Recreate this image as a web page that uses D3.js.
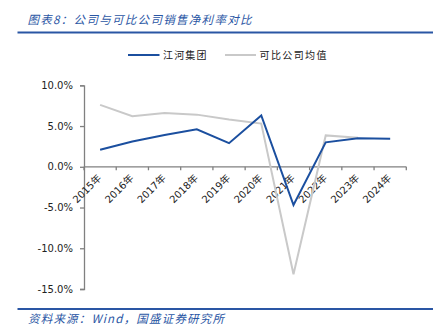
<!DOCTYPE html>
<html><head><meta charset="utf-8">
<script src="https://cdn.jsdelivr.net/npm/d3@7"></script>
<style>
html,body{margin:0;padding:0;background:#fff;}
svg{display:block;}
</style></head>
<body>
<svg id="c" width="434" height="329"></svg>
<script>
const years = ["2015年","2016年","2017年","2018年","2019年","2020年","2021年","2022年","2023年","2024年"];
const jianghe = [2.1, 3.1, 3.9, 4.6, 2.9, 6.3, -4.7, 3.0, 3.5, 3.45];
const peers = [7.6, 6.2, 6.6, 6.4, 5.8, 5.3, -13.2, 3.85, 3.55, null];
const yTicks = [10, 5, 0, -5, -10, -15];
const seriesNames = ["江河集团", "可比公司均值"];
const titleText = "图表8：公司与可比公司销售净利率对比";
const sourceText = "资料来源：Wind，国盛证券研究所";

const blue = "#1b4f9f", grey = "#c9c9c9", hdr = "#2a56a4", axisCol = "#808080";
const svg = d3.select("#c");
const x = d3.scaleBand().domain(years).range([84, 406.3]).padding(0);
const y = d3.scaleLinear().domain([-15, 10]).range([289, 85.3]);

// header
svg.append("text").attr("x", 27.5).attr("y", 23.5)
  .attr("font-family", "Noto Sans CJK SC").attr("font-style", "italic")
  .attr("font-size", 11.5).attr("fill", hdr)
  .attr("textLength", 224).attr("lengthAdjust", "spacing").text(titleText);
svg.append("line").attr("x1", 17.5).attr("x2", 433).attr("y1", 32.5).attr("y2", 32.5)
  .attr("stroke", hdr).attr("stroke-width", 2);

// legend
const leg = [
  {name: seriesNames[0], color: blue, x1: 128, x2: 159.5, tx: 163, tl: 43.5},
  {name: seriesNames[1], color: grey, x1: 225, x2: 256, tx: 259.5, tl: 67}
];
leg.forEach(l => {
  svg.append("line").attr("x1", l.x1).attr("x2", l.x2).attr("y1", 55).attr("y2", 55)
    .attr("stroke", l.color).attr("stroke-width", 2);
  svg.append("text").attr("x", l.tx).attr("y", 59).attr("font-family", "Noto Sans CJK SC")
    .attr("font-size", 10).attr("fill", "#222").attr("textLength", l.tl)
    .attr("lengthAdjust", "spacing").text(l.name);
});

// y axis
const yAxis = svg.append("g").attr("transform", "translate(84,0)")
  .call(d3.axisLeft(y).tickValues(yTicks).tickSize(4).tickPadding(7)
    .tickFormat(d => d.toFixed(1) + "%"));
yAxis.select(".domain").attr("stroke", axisCol).attr("stroke-width", 1.3);
yAxis.selectAll(".tick line").attr("stroke", axisCol).attr("stroke-width", 1.3);
yAxis.selectAll("text").attr("font-family", "DejaVu Sans").attr("font-size", 10).attr("fill", "#222");

// x axis at zero
const y0 = y(0);
svg.append("line").attr("x1", 84).attr("x2", 406.3).attr("y1", y0).attr("y2", y0)
  .attr("stroke", axisCol).attr("stroke-width", 1.3);
const xt = years.map(d => x(d)).concat([x.range()[1]]);
svg.append("g").selectAll("line").data(xt).join("line")
  .attr("x1", d => d).attr("x2", d => d).attr("y1", y0).attr("y2", y0 + 3.5)
  .attr("stroke", axisCol).attr("stroke-width", 1.3);
svg.append("g").selectAll("text").data(years).join("text")
  .attr("transform", d => `translate(${x(d) + x.bandwidth() / 2 + 2},${y0 + 12}) rotate(-45)`)
  .attr("text-anchor", "end")
  .attr("font-family", "DejaVu Sans, Noto Sans CJK SC").attr("font-size", 10).attr("fill", "#222")
  .text(d => d);

// lines
const line = d3.line().defined(d => d[1] != null)
  .x(d => x(d[0]) + x.bandwidth() / 2).y(d => y(d[1]));
svg.append("path").datum(years.map((d, i) => [d, peers[i]])).attr("d", line)
  .attr("fill", "none").attr("stroke", grey).attr("stroke-width", 2).attr("stroke-linejoin", "miter");
svg.append("path").datum(years.map((d, i) => [d, jianghe[i]])).attr("d", line)
  .attr("fill", "none").attr("stroke", blue).attr("stroke-width", 2).attr("stroke-linejoin", "miter");

// footer
svg.append("line").attr("x1", 17.5).attr("x2", 433).attr("y1", 309).attr("y2", 309)
  .attr("stroke", hdr).attr("stroke-width", 2);
svg.append("text").attr("x", 28).attr("y", 323)
  .attr("font-family", "Noto Sans CJK SC").attr("font-style", "italic")
  .attr("font-size", 11.5).attr("fill", hdr)
  .attr("textLength", 196).attr("lengthAdjust", "spacing").text(sourceText);
</script>
</body></html>
